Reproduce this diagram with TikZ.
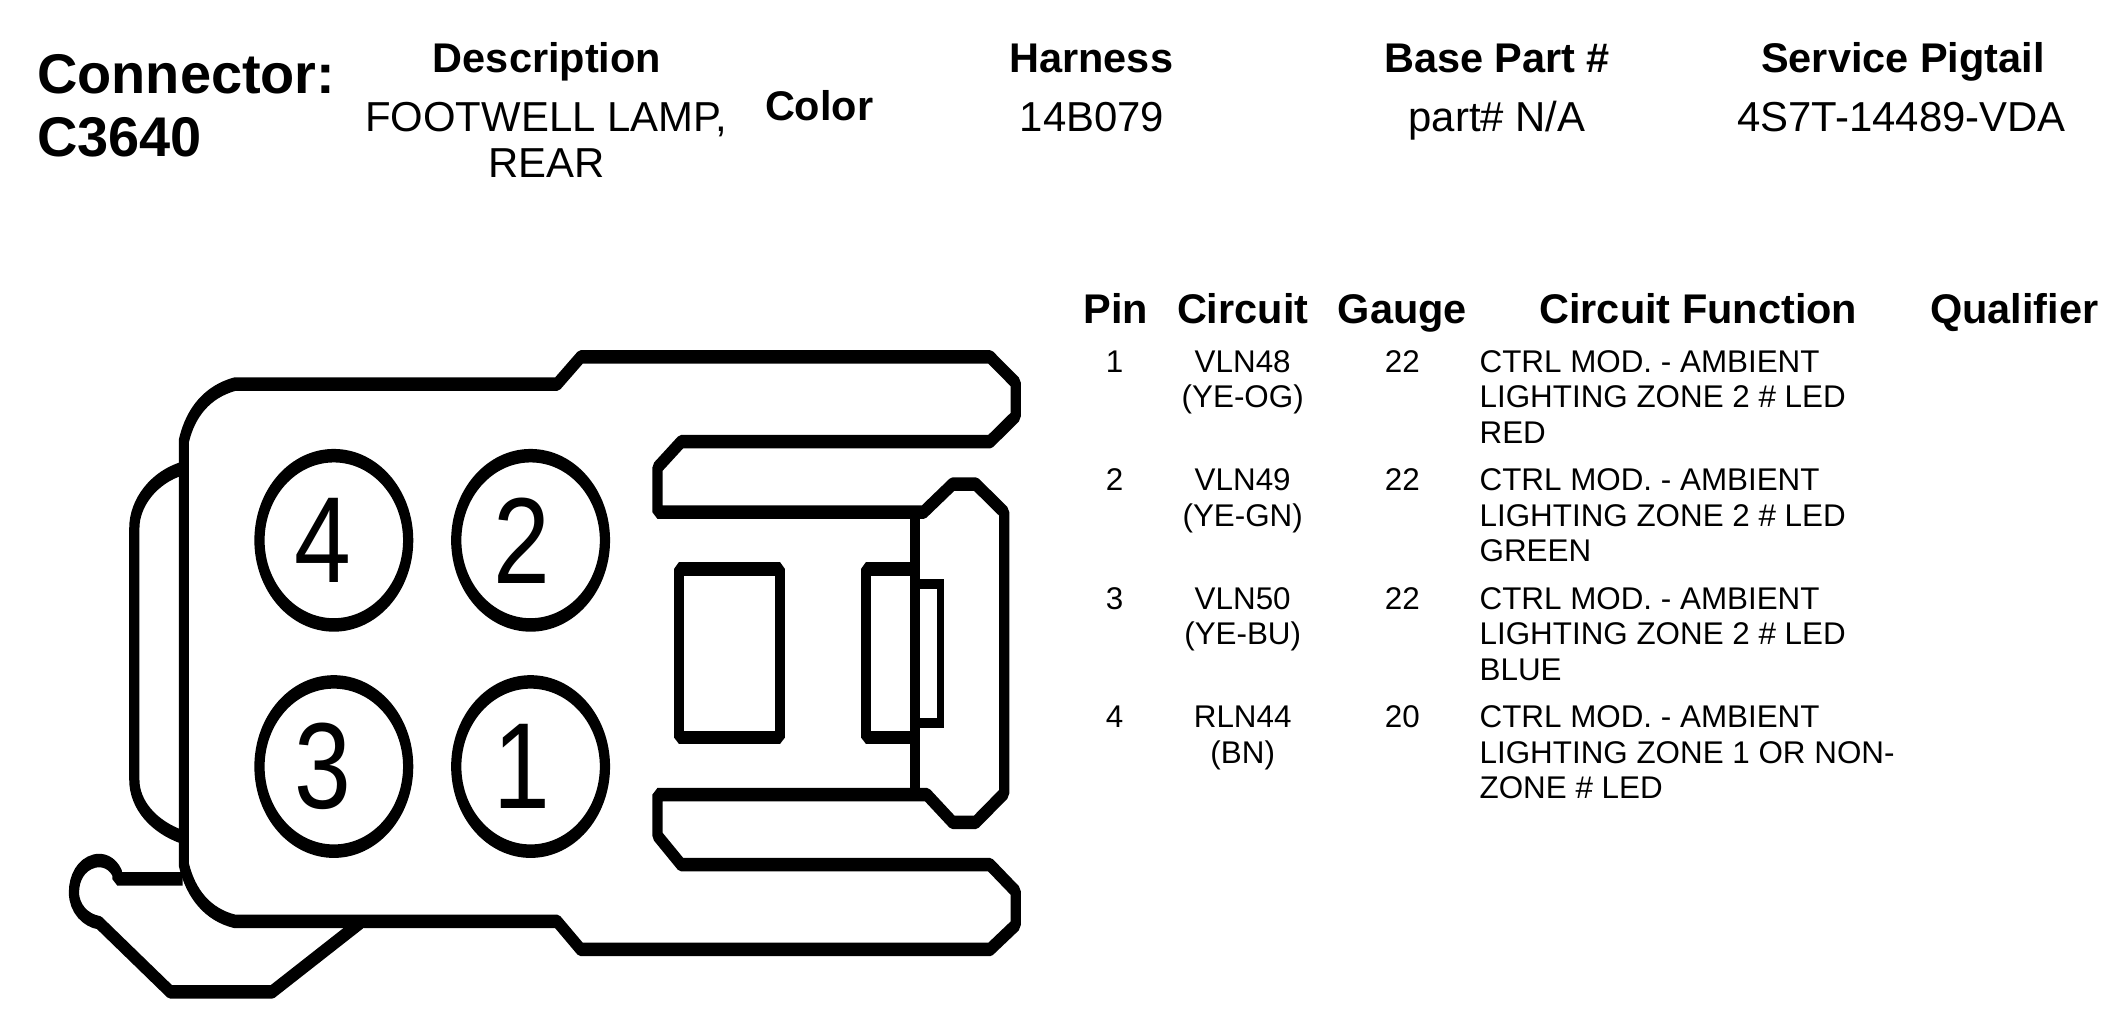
\documentclass[tikz,border=0pt]{standalone}
\usepackage{fontspec}
\usepackage{graphicx}
\setmainfont{Liberation Sans}
\usetikzlibrary{shapes.geometric}
\newcommand{\pindigit}[1]{\hspace{-16pt}\scalebox{1.1}[1]{#1}}
\newcommand{\pindigitb}[1]{\hspace{-13pt}\scalebox{1.1}[1]{#1}}
\tikzset{
  bigtitle/.style={anchor=north west,inner sep=0pt,align=left,font=\bfseries\fontsize{41}{46.5}\selectfont},
  headtxt/.style={anchor=base,inner sep=0pt,font=\bfseries\fontsize{30.4}{34}\selectfont},
  hdrval/.style={anchor=north,inner sep=0pt,align=center,font=\fontsize{30.7}{34}\selectfont},
  colhead/.style={anchor=base,inner sep=0pt,font=\bfseries\fontsize{30.4}{36}\selectfont},
  celltxt/.style={anchor=north,inner sep=0pt,align=center,font=\fontsize{23}{26}\selectfont},
  funcell/.style={anchor=north west,inner sep=0pt,align=left,font=\fontsize{23}{26}\selectfont},
  outline/.style={draw=black,line width=7.5pt,line join=bevel,line cap=butt},
  thinline/.style={draw=black,line width=5.5pt,line join=miter},
  pinoval/.style={ellipse,draw=black,line width=7.5pt,inner sep=0pt,minimum width=109pt,minimum height=94pt,font=\fontsize{68}{68}\selectfont}
}
\begin{document}
\begin{tikzpicture}[x=1pt,y=-1pt]
\useasboundingbox[fill=white] (0,0) rectangle (1560,747.7);
% header
\node[bigtitle] (conn) at (27,35.8) {\strut Connector:\\C3640};
\node[headtxt] (hdesc) at (401,53) {Description};
\node[hdrval] (vdesc) at (400.5,72.2) {\strut FOOTWELL LAMP,\\REAR};
\node[headtxt] (hcolor) at (600.5,88) {Color};
\node[headtxt] (hharn) at (800,53) {Harness};
\node[hdrval] (vharn) at (800.5,72.2) {\strut 14B079};
\node[headtxt] (hbase) at (1097.5,53) {Base Part \#};
\node[hdrval] (vbase) at (1097.5,72.2) {\strut part\# N/A};
\node[headtxt] (hpig) at (1395,53) {Service Pigtail};
\node[hdrval] (vpig) at (1394,72.2) {\strut 4S7T-14489-VDA};
% table head
\node[colhead] (tpin) at (818,237.5) {Pin};
\node[colhead] (tcir) at (911,237.5) {Circuit};
\node[colhead] (tgau) at (1028,237.5) {Gauge};
\node[colhead] (tfun) at (1245,237.5) {Circuit Function};
\node[colhead] (tqua) at (1476.5,237.5) {Qualifier};
% rows
\node[celltxt] (p1) at (817,254.6) {\strut 1};
\node[celltxt] (c1) at (911,254.6) {\strut VLN48\\(YE-OG)};
\node[celltxt] (g1) at (1028,254.6) {\strut 22};
\node[funcell] (f1) at (1084.5,254.6) {\strut CTRL MOD. - AMBIENT\\LIGHTING ZONE 2 \# LED\\RED};
\node[celltxt] (p2) at (817,341.4) {\strut 2};
\node[celltxt] (c2) at (911,341.4) {\strut VLN49\\(YE-GN)};
\node[celltxt] (g2) at (1028,341.4) {\strut 22};
\node[funcell] (f2) at (1084.5,341.4) {\strut CTRL MOD. - AMBIENT\\LIGHTING ZONE 2 \# LED\\GREEN};
\node[celltxt] (p3) at (817,428.2) {\strut 3};
\node[celltxt] (c3) at (911,428.2) {\strut VLN50\\(YE-BU)};
\node[celltxt] (g3) at (1028,428.2) {\strut 22};
\node[funcell] (f3) at (1084.5,428.2) {\strut CTRL MOD. - AMBIENT\\LIGHTING ZONE 2 \# LED\\BLUE};
\node[celltxt] (p4) at (817,515) {\strut 4};
\node[celltxt] (c4) at (911,515) {\strut RLN44\\(BN)};
\node[celltxt] (g4) at (1028,515) {\strut 20};
\node[funcell] (f4) at (1084.5,515) {\strut CTRL MOD. - AMBIENT\\LIGHTING ZONE 1 OR NON-\\ZONE \# LED};
% connector drawing (units follow the anisotropic artwork)
\begin{scope}[transform canvas={yscale=1.32},x=.4974pt,y=-.2478pt,xshift=.5pt,yshift=-177.9pt]
  \draw[outline] (270,1220) -- (270,270) .. controls (280,205) and (305,160) .. (345,143)
    -- (820,143) -- (855,82) -- (1458,82) -- (1496,140) -- (1496,215) -- (1458,272)
    -- (1003,272) -- (968,330) -- (968,430) -- (1360,430) -- (1403,367) -- (1437,367)
    -- (1479,430) -- (1479,1060) -- (1437,1125) -- (1403,1125) -- (1365,1063) -- (968,1063)
    -- (968,1155) -- (1003,1220) -- (1458,1220) -- (1496,1280) -- (1496,1355) -- (1458,1410)
    -- (855,1410) -- (820,1347) -- (345,1347) .. controls (305,1332) and (280,1285) .. cycle;
  \draw[outline] (1348,430) -- (1348,1063);
  \draw[outline] (268,332) .. controls (225,352) and (197,410) .. (197,465) -- (197,1030)
    .. controls (197,1085) and (225,1135) .. (268,1158);
  \draw[outline] (268,1252) -- (172,1252) -- (172,1240) .. controls (165,1215) and (150,1207) .. (138,1212)
    .. controls (118,1220) and (108,1250) .. (108,1282) .. controls (108,1318) and (125,1345) .. (145,1350)
    -- (250,1505) -- (400,1505) -- (530,1350);
  \draw[outline] (1000,557) rectangle (1148,935);
  \draw[outline] (1340,557) -- (1275,557) -- (1275,935) -- (1340,935);
  \draw[thinline] (1348,590) -- (1385,590) -- (1385,902) -- (1348,902);
  \node[pinoval] (pin4) at (491,493) {\pindigit{4}};
  \node[pinoval] (pin2) at (781,493) {\pindigitb{2}};
  \node[pinoval] (pin3) at (491,1000) {\pindigit{3}};
  \node[pinoval] (pin1) at (781,1000) {\pindigitb{1}};
\end{scope}
\end{tikzpicture}
\end{document}
